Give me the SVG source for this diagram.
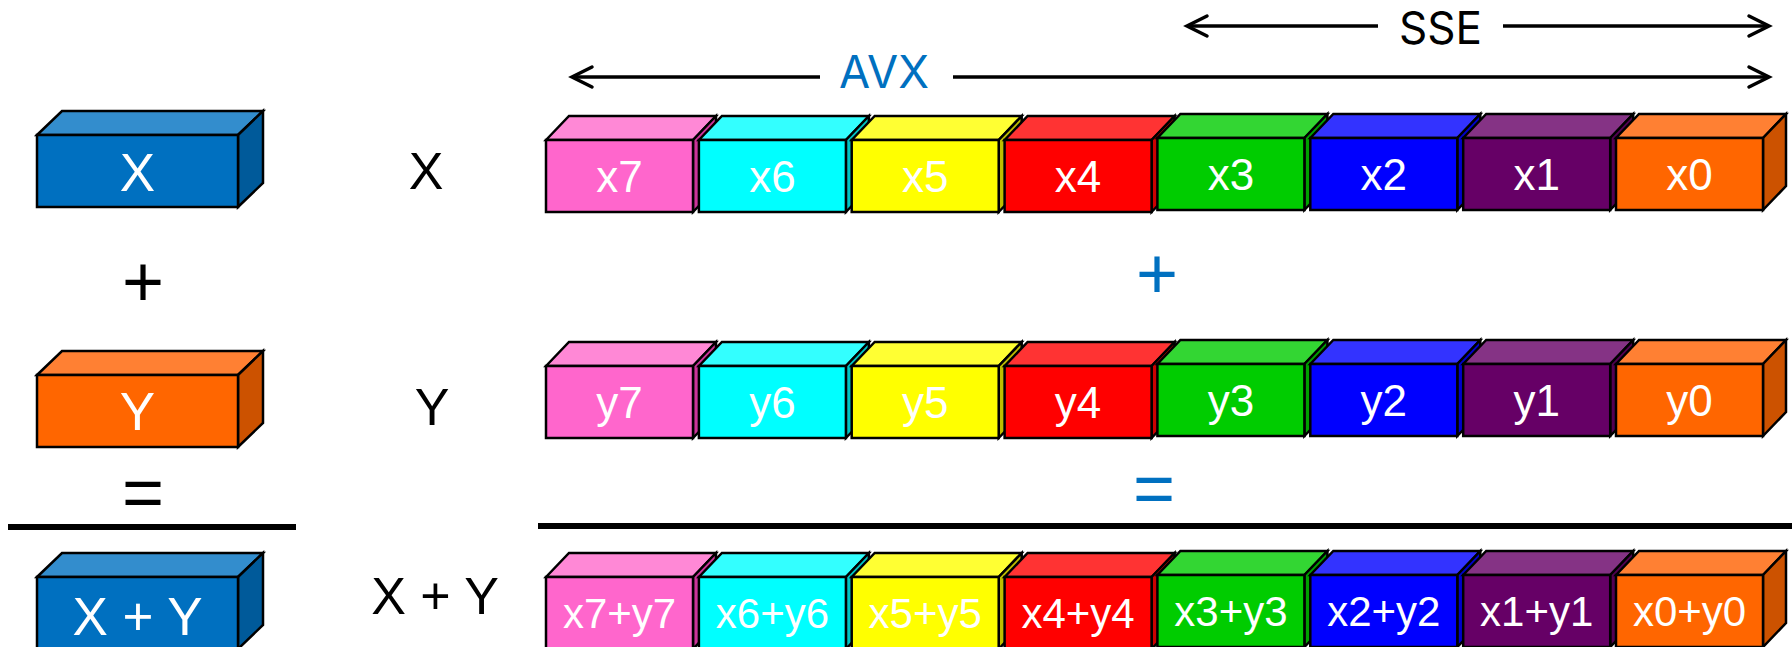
<svg xmlns="http://www.w3.org/2000/svg" width="1792" height="647" viewBox="0 0 1792 647">
<defs>
<style>
.box polygon,.box rect{stroke:#000;stroke-width:2.5;stroke-linejoin:miter}
.lbl{font-family:"Liberation Sans",Arial,sans-serif;fill:#fff;text-anchor:middle}
.b44{font-size:44px}.b42{font-size:42px}.b54{font-size:53px}
.txt{font-family:"Liberation Sans",Arial,sans-serif;fill:#000;text-anchor:middle}
.op{font-family:"Liberation Sans",Arial,sans-serif;font-size:72px;text-anchor:middle}
.hdr{font-family:Inter,"Open Sans",sans-serif;font-size:45px}
.arr{stroke:#000;stroke-width:3.5;fill:none}
.pink .f{fill:#FF66CC}.pink .t{fill:#FF88D6}.pink .s{fill:#CC3399}
.cyan .f{fill:#00FFFF}.cyan .t{fill:#33FFFF}.cyan .s{fill:#00C4C4}
.yel .f{fill:#FFFF00}.yel .t{fill:#FFFF33}.yel .s{fill:#BDBD00}
.red .f{fill:#FF0000}.red .t{fill:#FF3333}.red .s{fill:#CC0000}
.grn .f{fill:#00CC00}.grn .t{fill:#33D633}.grn .s{fill:#00A000}
.blu .f{fill:#0000FF}.blu .t{fill:#3333FF}.blu .s{fill:#0000CC}
.pur .f{fill:#660066}.pur .t{fill:#853385}.pur .s{fill:#520052}
.org .f{fill:#FF6600}.org .t{fill:#FF8033}.org .s{fill:#CC5200}
.lb .f{fill:#0070C0}.lb .t{fill:#338DCD}.lb .s{fill:#005A9A}
</style>
<marker id="ah" markerUnits="userSpaceOnUse" markerWidth="30" markerHeight="30" viewBox="-25 -15 30 30" refX="0" refY="0" orient="auto">
<path d="M-20,-10 L0,0 L-20,10" fill="none" stroke="#000" stroke-width="3.5" stroke-linecap="round" stroke-linejoin="miter"/>
</marker>
</defs>
<rect width="1792" height="647" fill="#fff"/>

<!-- left column -->
<g id="boxX" class="box lb" transform="translate(37,135)">
<polygon class="t" points="0,0 25,-24 226,-24 201,0"/>
<polygon class="s" points="201,0 226,-24 226,48 201,72"/>
<rect class="f" width="201" height="72"/>
<text class="lbl b54" x="100.5" y="56">X</text>
</g>
<g id="boxY" class="box org" transform="translate(37,375)">
<polygon class="t" points="0,0 25,-24 226,-24 201,0"/>
<polygon class="s" points="201,0 226,-24 226,48 201,72"/>
<rect class="f" width="201" height="72"/>
<text class="lbl b54" x="100.5" y="55">Y</text>
</g>
<g id="boxXY" class="box lb" transform="translate(37,577)">
<polygon class="t" points="0,0 25,-24 226,-24 201,0"/>
<polygon class="s" points="201,0 226,-24 226,48 201,72"/>
<rect class="f" width="201" height="72"/>
<text class="lbl b54" x="100.5" y="58">X + Y</text>
</g>
<text class="op" x="143" y="306" fill="#000">+</text>
<text class="op" x="143" y="517" fill="#000">=</text>
<rect x="8" y="524" width="288" height="6" fill="#000"/>

<!-- row labels -->
<text class="txt" x="426" y="189" font-size="52">X</text>
<text class="txt" x="432" y="425" font-size="52">Y</text>
<text class="txt" x="435" y="614" font-size="52">X + Y</text>

<!-- X row -->
<g id="x7" class="box pink" transform="translate(546,140)"><polygon class="t" points="0,0 23,-24 170,-24 147,0"/><polygon class="s" points="147,0 170,-24 170,48 147,72"/><rect class="f" width="147" height="72"/><text class="lbl b44" x="73.5" y="52">x7</text></g>
<g id="x6" class="box cyan" transform="translate(698.9,140)"><polygon class="t" points="0,0 23,-24 170,-24 147,0"/><polygon class="s" points="147,0 170,-24 170,48 147,72"/><rect class="f" width="147" height="72"/><text class="lbl b44" x="73.5" y="52">x6</text></g>
<g id="x5" class="box yel" transform="translate(851.7,140)"><polygon class="t" points="0,0 23,-24 170,-24 147,0"/><polygon class="s" points="147,0 170,-24 170,48 147,72"/><rect class="f" width="147" height="72"/><text class="lbl b44" x="73.5" y="52">x5</text></g>
<g id="x4" class="box red" transform="translate(1004.6,140)"><polygon class="t" points="0,0 23,-24 170,-24 147,0"/><polygon class="s" points="147,0 170,-24 170,48 147,72"/><rect class="f" width="147" height="72"/><text class="lbl b44" x="73.5" y="52">x4</text></g>
<g id="x3" class="box grn" transform="translate(1157.4,138)"><polygon class="t" points="0,0 23,-24 170,-24 147,0"/><polygon class="s" points="147,0 170,-24 170,48 147,72"/><rect class="f" width="147" height="72"/><text class="lbl b44" x="73.5" y="52">x3</text></g>
<g id="x2" class="box blu" transform="translate(1310.3,138)"><polygon class="t" points="0,0 23,-24 170,-24 147,0"/><polygon class="s" points="147,0 170,-24 170,48 147,72"/><rect class="f" width="147" height="72"/><text class="lbl b44" x="73.5" y="52">x2</text></g>
<g id="x1" class="box pur" transform="translate(1463.2,138)"><polygon class="t" points="0,0 23,-24 170,-24 147,0"/><polygon class="s" points="147,0 170,-24 170,48 147,72"/><rect class="f" width="147" height="72"/><text class="lbl b44" x="73.5" y="52">x1</text></g>
<g id="x0" class="box org" transform="translate(1616,138)"><polygon class="t" points="0,0 23,-24 170,-24 147,0"/><polygon class="s" points="147,0 170,-24 170,48 147,72"/><rect class="f" width="147" height="72"/><text class="lbl b44" x="73.5" y="52">x0</text></g>

<text class="op" x="1157" y="298" fill="#0070C0">+</text>

<!-- Y row -->
<g id="y7" class="box pink" transform="translate(546,366)"><polygon class="t" points="0,0 23,-24 170,-24 147,0"/><polygon class="s" points="147,0 170,-24 170,48 147,72"/><rect class="f" width="147" height="72"/><text class="lbl b44" x="73.5" y="52">y7</text></g>
<g id="y6" class="box cyan" transform="translate(698.9,366)"><polygon class="t" points="0,0 23,-24 170,-24 147,0"/><polygon class="s" points="147,0 170,-24 170,48 147,72"/><rect class="f" width="147" height="72"/><text class="lbl b44" x="73.5" y="52">y6</text></g>
<g id="y5" class="box yel" transform="translate(851.7,366)"><polygon class="t" points="0,0 23,-24 170,-24 147,0"/><polygon class="s" points="147,0 170,-24 170,48 147,72"/><rect class="f" width="147" height="72"/><text class="lbl b44" x="73.5" y="52">y5</text></g>
<g id="y4" class="box red" transform="translate(1004.6,366)"><polygon class="t" points="0,0 23,-24 170,-24 147,0"/><polygon class="s" points="147,0 170,-24 170,48 147,72"/><rect class="f" width="147" height="72"/><text class="lbl b44" x="73.5" y="52">y4</text></g>
<g id="y3" class="box grn" transform="translate(1157.4,364)"><polygon class="t" points="0,0 23,-24 170,-24 147,0"/><polygon class="s" points="147,0 170,-24 170,48 147,72"/><rect class="f" width="147" height="72"/><text class="lbl b44" x="73.5" y="52">y3</text></g>
<g id="y2" class="box blu" transform="translate(1310.3,364)"><polygon class="t" points="0,0 23,-24 170,-24 147,0"/><polygon class="s" points="147,0 170,-24 170,48 147,72"/><rect class="f" width="147" height="72"/><text class="lbl b44" x="73.5" y="52">y2</text></g>
<g id="y1" class="box pur" transform="translate(1463.2,364)"><polygon class="t" points="0,0 23,-24 170,-24 147,0"/><polygon class="s" points="147,0 170,-24 170,48 147,72"/><rect class="f" width="147" height="72"/><text class="lbl b44" x="73.5" y="52">y1</text></g>
<g id="y0" class="box org" transform="translate(1616,364)"><polygon class="t" points="0,0 23,-24 170,-24 147,0"/><polygon class="s" points="147,0 170,-24 170,48 147,72"/><rect class="f" width="147" height="72"/><text class="lbl b44" x="73.5" y="52">y0</text></g>

<text class="op" x="1154" y="513" fill="#0070C0">=</text>
<rect x="538" y="523" width="1254" height="6" fill="#000"/>

<!-- Sum row -->
<g id="s7" class="box pink" transform="translate(546,577)"><polygon class="t" points="0,0 23,-24 170,-24 147,0"/><polygon class="s" points="147,0 170,-24 170,48 147,72"/><rect class="f" width="147" height="72"/><text class="lbl b42" x="73.5" y="51">x7+y7</text></g>
<g id="s6" class="box cyan" transform="translate(698.9,577)"><polygon class="t" points="0,0 23,-24 170,-24 147,0"/><polygon class="s" points="147,0 170,-24 170,48 147,72"/><rect class="f" width="147" height="72"/><text class="lbl b42" x="73.5" y="51">x6+y6</text></g>
<g id="s5" class="box yel" transform="translate(851.7,577)"><polygon class="t" points="0,0 23,-24 170,-24 147,0"/><polygon class="s" points="147,0 170,-24 170,48 147,72"/><rect class="f" width="147" height="72"/><text class="lbl b42" x="73.5" y="51">x5+y5</text></g>
<g id="s4" class="box red" transform="translate(1004.6,577)"><polygon class="t" points="0,0 23,-24 170,-24 147,0"/><polygon class="s" points="147,0 170,-24 170,48 147,72"/><rect class="f" width="147" height="72"/><text class="lbl b42" x="73.5" y="51">x4+y4</text></g>
<g id="s3" class="box grn" transform="translate(1157.4,575)"><polygon class="t" points="0,0 23,-24 170,-24 147,0"/><polygon class="s" points="147,0 170,-24 170,48 147,72"/><rect class="f" width="147" height="72"/><text class="lbl b42" x="73.5" y="51">x3+y3</text></g>
<g id="s2" class="box blu" transform="translate(1310.3,575)"><polygon class="t" points="0,0 23,-24 170,-24 147,0"/><polygon class="s" points="147,0 170,-24 170,48 147,72"/><rect class="f" width="147" height="72"/><text class="lbl b42" x="73.5" y="51">x2+y2</text></g>
<g id="s1" class="box pur" transform="translate(1463.2,575)"><polygon class="t" points="0,0 23,-24 170,-24 147,0"/><polygon class="s" points="147,0 170,-24 170,48 147,72"/><rect class="f" width="147" height="72"/><text class="lbl b42" x="73.5" y="51">x1+y1</text></g>
<g id="s0" class="box org" transform="translate(1616,575)"><polygon class="t" points="0,0 23,-24 170,-24 147,0"/><polygon class="s" points="147,0 170,-24 170,48 147,72"/><rect class="f" width="147" height="72"/><text class="lbl b42" x="73.5" y="51">x0+y0</text></g>

<!-- span arrows -->
<g id="connectors">
<line class="arr" x1="820" y1="77" x2="572" y2="77" marker-end="url(#ah)"/>
<line class="arr" x1="953" y1="77" x2="1769" y2="77" marker-end="url(#ah)"/>
<line class="arr" x1="1378" y1="26" x2="1187" y2="26" marker-end="url(#ah)"/>
<line class="arr" x1="1503" y1="26" x2="1769" y2="26" marker-end="url(#ah)"/>
</g>
<text class="hdr" x="839" y="88" fill="#0070C0" textLength="90" lengthAdjust="spacingAndGlyphs">AVX</text>
<text class="hdr" x="1399" y="44" fill="#000" textLength="83" lengthAdjust="spacingAndGlyphs">SSE</text>
</svg>
